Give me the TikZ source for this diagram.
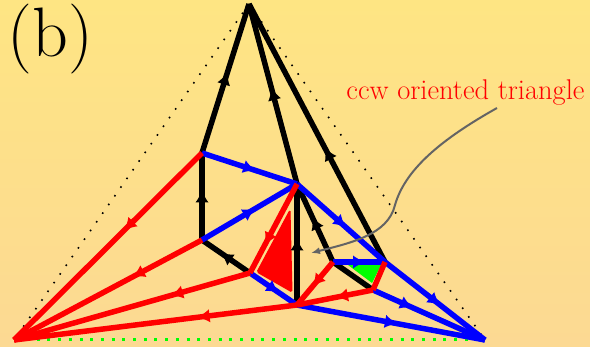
\documentclass[tikz,border=0pt]{standalone}
\usepackage{tikz}
\usetikzlibrary{arrows.meta,decorations.markings}

\definecolor{fundsus}{RGB}{254,229,131}
\definecolor{fundjos}{RGB}{252,217,147}
\definecolor{gricurba}{RGB}{100,100,100}

\tikzset{
  muchie/.style={line width=5.5pt},
  sageata/.style={postaction={decorate},
    decoration={markings, mark=at position #1 with {\fill (6pt,0pt) .. controls (2pt,1.5pt) and (-3pt,4pt) .. (-6pt,6.5pt) -- (-6pt,-6.5pt) .. controls (-3pt,-4pt) and (2pt,-1.5pt) .. cycle;}}},
}

\begin{document}
\begin{tikzpicture}[x=1pt,y=-1pt]
    % Fundal (pixeli, y in jos)
    \shade[top color=fundsus, bottom color=fundjos] (0,0) rectangle (590,347);
    \useasboundingbox (0,0) rectangle (590,347);
    % Radacini si noduri interioare
    \coordinate (T)  at (249,4);
    \coordinate (BL) at (14,340);
    \coordinate (BR) at (485,340);
    \coordinate (A)  at (202,153);
    \coordinate (B)  at (202,240);
    \coordinate (P)  at (297,184);
    \coordinate (C)  at (250,273);
    \coordinate (D)  at (297,305);
    \coordinate (E)  at (333,262);
    \coordinate (F)  at (385,262);
    \coordinate (G)  at (373,290);
    % Triunghiul exterior punctat
    \draw[line width=1.6pt, dash pattern=on 1.6pt off 9pt] (T) -- (BL);
    \draw[line width=1.6pt, dash pattern=on 1.6pt off 9pt] (T) -- (BR);
    \draw[green, line width=3pt, dash pattern=on 3pt off 7.7pt] ([xshift=12pt]BL) -- ([xshift=-3pt]BR);
    % Triunghiuri orientate (umplute)
    \fill[green] (348,265) -- (381,265) -- (372,283) -- cycle;
    \filldraw[red, line width=1pt, rounded corners=1.5pt] (290,210) -- (257,272) -- (292,292) -- cycle;
    % Muchii negre — spre T
    \draw[muchie, sageata=0.5]  (A) -- (T);
    \draw[muchie, sageata=0.5]  (P) -- (T);
    \draw[muchie, sageata=0.42] (F) -- (T);
    \draw[muchie, sageata=0.5]  (B) -- (A);
    \draw[muchie, sageata=0.5]  (C) -- (B);
    \draw[muchie, sageata=0.5]  (D) -- (P);
    \draw[muchie, sageata=0.5]  (E) -- (P);
    \draw[muchie]               (G) -- (E);
    % Muchii albastre — spre BR
    \draw[muchie, blue, sageata=0.5] (A) -- (P);
    \draw[muchie, blue, sageata=0.5] (B) -- (P);
    \draw[muchie, blue, sageata=0.5] (P) -- (F);
    \draw[muchie, blue, sageata=0.5] (E) -- (F);
    \draw[muchie, blue, sageata=0.5] (C) -- (D);
    \draw[muchie, blue, sageata=0.5] (D) -- (BR);
    \draw[muchie, blue, sageata=0.3] (G) -- (BR);
    \draw[muchie, blue, sageata=0.5] (F) -- (BR);
    % Muchii rosii — spre BL
    \draw[muchie, red, sageata=0.39] (A) -- (BL);
    \draw[muchie, red, sageata=0.34] (B) -- (BL);
    \draw[muchie, red, sageata=0.31] (C) -- (BL);
    \draw[muchie, red, sageata=0.33] (D) -- (BL);
    \draw[muchie, red, sageata=0.62] (P) -- (C);
    \draw[muchie, red, sageata=0.45] (E) -- (D);
    \draw[muchie, red, sageata=0.41] (G) -- (D);
    \draw[muchie, red]               (F) -- (G);
    % Eticheta si sageata gri
    \node[font=\fontsize{70}{70}\selectfont, anchor=base] (lit) at (50.5,57) {(b)};
    \node[red, font=\fontsize{28.5}{28.5}\selectfont, anchor=base] (ccw) at (465.5,100) {ccw oriented triangle};
    \coordinate (ccwsursa) at (497,108);
    \coordinate (ccwtinta) at (311,253);
    \draw[gricurba, line width=2pt, -{Latex[length=9pt,width=7pt]}]
      (ccwsursa) .. controls (440,140) and (405,170) .. (395,205)
      .. controls (388,235) and (350,243) .. (ccwtinta);
\end{tikzpicture}
\end{document}
